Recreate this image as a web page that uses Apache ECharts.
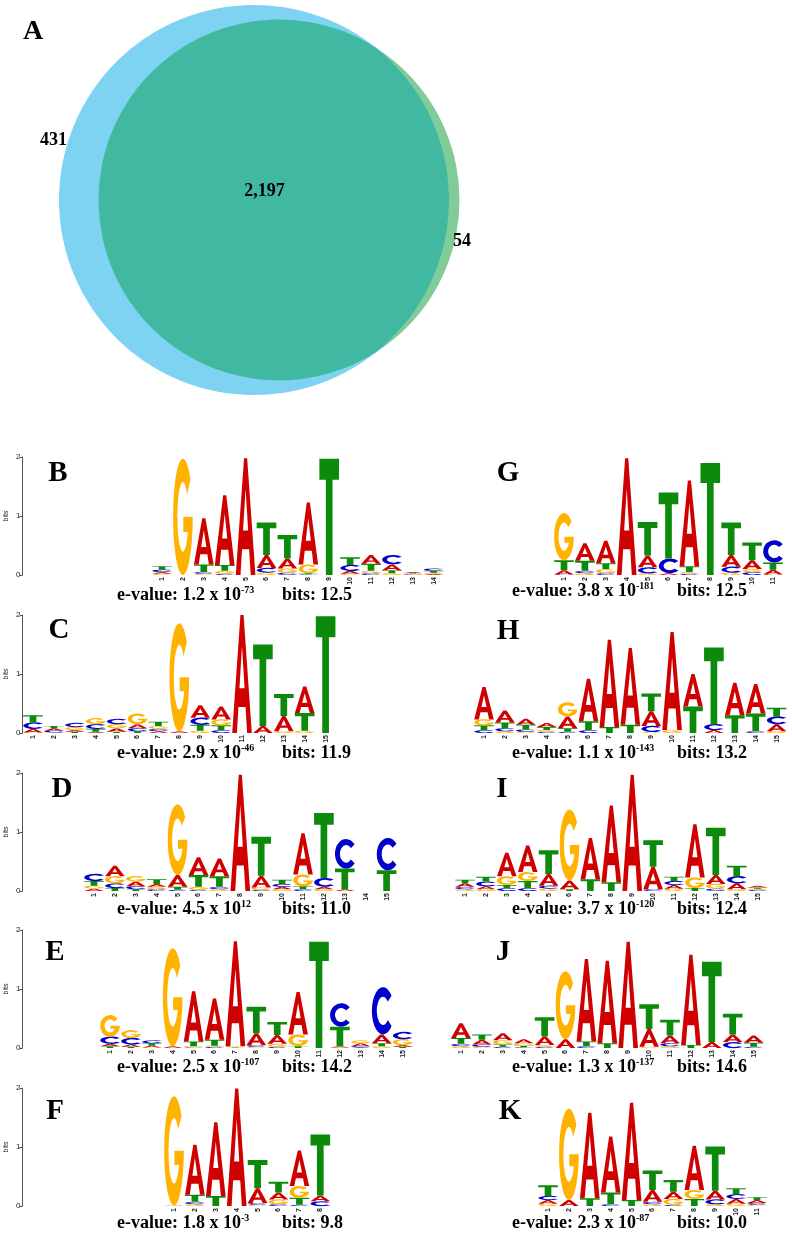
<!DOCTYPE html>
<html><head><meta charset="utf-8">
<script src="https://cdn.jsdelivr.net/npm/echarts@6/dist/echarts.min.js"></script>
<style>html,body{margin:0;padding:0;background:#fff}#c{width:792px;height:1235px}</style>
</head><body><div id="c"></div>
<script>
// ---------- Venn counts ----------
const vennOnlyFirst = 431;
const vennBoth = 2197;
const vennOnlySecond = 54;

// ---------- Sequence logos: per position [A, C, G, T] in bits ----------
const logoB = [
  [0.03,0.04,0.02,0.06],[0,0,1.97,0],[0.78,0.03,0.02,0.13],[1.18,0.02,0.05,0.1],
  [1.98,0,0,0],[0.22,0.08,0.04,0.55],[0.17,0.04,0.07,0.4],[1.05,0.01,0.15,0.02],
  [0,0,0,1.97],[0.05,0.1,0.02,0.13],[0.15,0.03,0.04,0.12],[0.1,0.16,0.03,0.05],
  [0.02,0.01,0.01,0.01],[0.02,0.04,0.02,0.03]
];
const logoC = [
  [0.06,0.11,0.01,0.12],[0.04,0.03,0.01,0.04],[0.03,0.07,0.05,0.02],[0.02,0.08,0.1,0.05],
  [0.06,0.09,0.07,0.02],[0.07,0.05,0.18,0.03],[0.03,0.04,0.05,0.07],[0.03,0,1.83,0],
  [0.21,0.12,0.04,0.1],[0.22,0.05,0.1,0.08],[2.0,0,0,0],[0.12,0,0,1.38],
  [0.26,0,0.03,0.37],[0.45,0,0.04,0.3],[0,0,0,1.98]
];
const logoD = [
  [0.04,0.12,0.05,0.08],[0.18,0.08,0.12,0.05],[0.08,0.05,0.09,0.03],[0.05,0.03,0.04,0.08],
  [0.2,0.02,1.2,0.05],[0.3,0.02,0.05,0.2],[0.3,0.04,0.03,0.18],[1.97,0,0,0],
  [0.2,0.02,0.04,0.66],[0.04,0.05,0.03,0.07],[0.7,0.03,0.2,0.05],[0.04,0.15,0.03,1.1],
  [0.03,0.5,0,0.35],[0,0,0,0],[0,0.55,0,0.35]
];
const logoE = [
  [0.04,0.12,0.37,0.03],[0.04,0.11,0.13,0.02],[0.03,0.05,0.01,0.04],[0.03,0,1.66,0],
  [0.85,0.01,0.02,0.08],[0.7,0.02,0.02,0.1],[1.78,0,0.02,0.01],[0.2,0.03,0.02,0.45],
  [0.15,0.02,0.05,0.22],[0.72,0,0.2,0.03],[0,0,0,1.8],[0.02,0.4,0.01,0.33],
  [0.05,0.02,0.05,0.01],[0.15,0.8,0.03,0.05],[0.03,0.12,0.1,0.02]
];
const logoF = [
  [0.01,0,1.85,0],[0.85,0.04,0.03,0.12],[1.25,0,0,0.17],[1.99,0,0,0],
  [0.25,0.03,0.02,0.48],[0.12,0.03,0.08,0.18],[0.6,0.02,0.2,0.12],[0.1,0.08,0,1.03]
];
const logoG = [
  [0.07,0.01,0.8,0.17],[0.3,0.04,0.03,0.17],[0.38,0.03,0.07,0.1],[1.98,0,0,0],
  [0.2,0.1,0.03,0.57],[0.03,0.25,0,1.12],[1.45,0.02,0.03,0.1],[0,0,0,1.9],
  [0.2,0.1,0.04,0.55],[0.15,0.05,0.05,0.3],[0.08,0.38,0.01,0.12]
];
const logoH = [
  [0.55,0.05,0.1,0.08],[0.2,0.05,0.03,0.1],[0.1,0.04,0.02,0.08],[0.07,0.02,0.03,0.05],
  [0.2,0.02,0.24,0.06],[0.72,0.05,0,0.15],[1.48,0,0,0.1],[1.3,0,0,0.14],
  [0.25,0.1,0.02,0.3],[1.66,0,0.05,0],[0.55,0,0,0.45],[0.05,0.1,0,1.3],
  [0.55,0,0,0.3],[0.5,0.03,0,0.3],[0.12,0.13,0.03,0.15]
];
const logoI = [
  [0.06,0.04,0.03,0.06],[0.05,0.08,0.03,0.08],[0.4,0.05,0.15,0.05],[0.45,0.05,0.15,0.12],
  [0.2,0.05,0.04,0.4],[0.15,0,1.2,0.03],[0.7,0,0,0.2],[1.3,0,0,0.15],
  [1.97,0,0,0],[0.38,0.03,0,0.45],[0.06,0.07,0.04,0.07],[0.9,0,0.18,0.05],
  [0.15,0.04,0.08,0.8],[0.1,0.12,0.03,0.18],[0.03,0.02,0.02,0.02]
];
const logoJ = [
  [0.25,0.04,0.03,0.1],[0.08,0.04,0.02,0.09],[0.12,0.02,0.07,0.04],[0.07,0.01,0.04,0.03],
  [0.15,0.02,0.03,0.32],[0.15,0,1.15,0],[1.4,0.03,0,0.08],[1.4,0,0,0.08],
  [1.8,0,0,0],[0.3,0,0.02,0.42],[0.13,0.05,0.03,0.27],[1.53,0,0,0.05],
  [0.1,0,0,1.36],[0.13,0.1,0,0.35],[0.12,0.02,0,0.07]
];
const logoK = [
  [0.06,0.07,0.04,0.18],[0.1,0,1.55,0],[1.45,0,0,0.13],[0.95,0.03,0,0.2],
  [1.65,0,0,0.1],[0.2,0.04,0.03,0.33],[0.12,0.02,0.1,0.2],[0.75,0,0.15,0.12],
  [0.15,0.08,0.03,0.75],[0.08,0.08,0.04,0.1],[0.05,0.03,0.02,0.05]
];

const panelNames = ['B','C','D','E','F','G','H','I','J','K'];
const panelLogos = [logoB, logoC, logoD, logoE, logoF, logoG, logoH, logoI, logoJ, logoK];
const eValueBase = ['1.2','2.9','4.5','2.5','1.8','3.8','1.1','3.7','1.3','2.3'];
const eValueExp  = ['-73','-46','12','-107','-3','-181','-143','-120','-137','-87'];
const totalBits  = ['12.5','11.9','11.0','14.2','9.8','12.5','13.2','12.4','14.6','10.0'];

// ---------- layout (pixels) ----------
const STEP = 20.9, PLOT_H = 118, AXIS_X = 22.5;
const panelPos1 = [162, 33, 94, 110, 174, 564, 484, 465, 461, 548];
const panelBase = [575, 733, 891, 1048, 1206, 575, 733, 891, 1048, 1206];
const panelLabelXY = [[58,474],[59,631],[62,790],[55,953],[55,1112],[508,474],[508,632],[502,790],[503,953],[510,1112]];
const captionY = [595, 753, 909, 1067, 1223, 591, 753, 909, 1067, 1223];
const captionX = [[117,282],[512,677]];
const VENN_CX = 254, VENN_CY = 200, VENN_R1 = 195;

const LETTERS = ['A','C','G','T'];
const COLORS = ['#D00000','#0000CC','#FFB300','#0B8A0B'];
const GLYPH = [
  'M0,100 L42,0 L58,0 L100,100 L76,100 L68,78 L32,78 L24,100 Z M37,62 L63,62 L50,26 Z',
  'M88.3,17.9 A50,50 0 1 0 88.3,82.1 L71.4,69.3 A28,30 0 1 1 71.4,30.7 Z',
  'M88.3,17.9 A50,50 0 1 0 100,50 L52,50 L52,63 L75.2,63 A28,30 0 1 1 71.4,30.7 Z',
  'M0,0 L100,0 L100,18 L67,18 L67,100 L33,100 L33,18 L0,18 Z'
];

function logoRender(params, api) {
  const i = api.value(0);
  const vals = [api.value(1), api.value(2), api.value(3), api.value(4)];
  const order = [0,1,2,3].sort((a,b) => vals[a] - vals[b]);
  const w = api.size([1, 0])[0] * 0.94;
  const children = [];
  let acc = 0;
  for (const k of order) {
    const h = vals[k];
    if (!(h > 0.003)) continue;
    const pb = api.coord([i, acc]);
    const pt = api.coord([i, acc + h]);
    children.push({
      type: 'path',
      shape: { pathData: GLYPH[k], x: pb[0] - w / 2, y: pt[1], width: w, height: Math.max(pb[1] - pt[1], 0.3), layout: 'cover' },
      style: { fill: COLORS[k] }
    });
    acc += h;
  }
  return { type: 'group', children };
}

function lensArea(d, r1, r2) {
  if (d <= Math.abs(r1 - r2)) return Math.PI * Math.min(r1, r2) ** 2;
  if (d >= r1 + r2) return 0;
  const a1 = r1 * r1 * Math.acos((d * d + r1 * r1 - r2 * r2) / (2 * d * r1));
  const a2 = r2 * r2 * Math.acos((d * d + r2 * r2 - r1 * r1) / (2 * d * r2));
  const t = 0.5 * Math.sqrt((-d + r1 + r2) * (d + r1 - r2) * (d - r1 + r2) * (d + r1 + r2));
  return a1 + a2 - t;
}

function vennRender(params, api) {
  const a = api.value(0), both = api.value(1), b = api.value(2);
  const nA = a + both, nB = b + both;
  const r1 = VENN_R1, k = r1 / Math.sqrt(nA), r2 = k * Math.sqrt(nB);
  const target = Math.PI * k * k * both;
  let lo = Math.abs(r1 - r2) + 1e-6, hi = r1 + r2;
  for (let it = 0; it < 80; it++) {
    const mid = (lo + hi) / 2;
    if (lensArea(mid, r1, r2) > target) lo = mid; else hi = mid;
  }
  const d = (lo + hi) / 2;
  const c1x = VENN_CX, cy = VENN_CY, c2x = c1x + d;
  const xi = (d * d + r1 * r1 - r2 * r2) / (2 * d);
  const h = Math.sqrt(r1 * r1 - xi * xi);
  const p1 = [c1x + xi, cy - h], p2 = [c1x + xi, cy + h];
  const lens = `M${p1[0]},${p1[1]} A${r2},${r2} 0 1 0 ${p2[0]},${p2[1]} A${r1},${r1} 0 0 0 ${p1[0]},${p1[1]} Z`;
  const font = 'bold 18px "Liberation Serif"';
  const th1 = 196.5 * Math.PI / 180, th2 = 12.6 * Math.PI / 180;
  const txt = (x, y, s) => ({ type: 'text', x, y, style: { text: s, font, fill: '#000', align: 'center', verticalAlign: 'middle' } });
  return {
    type: 'group',
    children: [
      { type: 'circle', shape: { cx: c2x, cy, r: r2 }, style: { fill: '#80CB98' } },
      { type: 'circle', shape: { cx: c1x, cy, r: r1 }, style: { fill: '#7ED2F2' } },
      { type: 'path', shape: { pathData: lens }, style: { fill: '#41B9A0' } },
      txt(c1x + (r1 + 14) * Math.cos(th1), cy + (r1 + 14) * Math.sin(th1), a.toLocaleString('en-US')),
      txt((c1x + c2x) / 2 - 2, cy - 9, both.toLocaleString('en-US')),
      txt(c2x + (r2 + 7) * Math.cos(th2), cy + (r2 + 7) * Math.sin(th2), b.toLocaleString('en-US'))
    ]
  };
}

const grids = [], xAxes = [], yAxes = [], series = [], graphics = [];
panelLogos.forEach((logo, p) => {
  const n = logo.length;
  const left = panelPos1[p] - STEP / 2;
  const hasAxis = p < 5;
  grids.push({ left, top: panelBase[p] - PLOT_H, width: n * STEP, height: PLOT_H });
  xAxes.push({
    type: 'category', gridIndex: p, data: logo.map((_, i) => String(i + 1)),
    axisLine: { show: false }, axisTick: { show: false },
    axisLabel: { rotate: 90, fontSize: 7, margin: 2, color: '#222', interval: 0, fontFamily: '"Liberation Sans"', fontWeight: 'bold' },
    splitLine: { show: false }
  });
  yAxes.push({
    type: 'value', gridIndex: p, min: 0, max: 2, interval: 1, show: hasAxis,
    offset: hasAxis ? left - AXIS_X : 0,
    axisLine: { show: true, lineStyle: { color: '#555', width: 1 } },
    axisTick: { show: true, length: 3, lineStyle: { color: '#555' } },
    axisLabel: { fontSize: 8, margin: 2, color: '#222', fontFamily: '"Liberation Sans"' },
    splitLine: { show: false },
    name: 'bits', nameLocation: 'middle', nameGap: 13, nameRotate: 90,
    nameTextStyle: { fontSize: 7, color: '#222', fontFamily: '"Liberation Sans"' }
  });
  series.push({
    type: 'custom', xAxisIndex: p, yAxisIndex: p, silent: true, clip: false,
    data: logo.map((v, i) => [i, v[0], v[1], v[2], v[3]]),
    encode: { x: 0, y: 1 }, renderItem: logoRender
  });
  graphics.push({
    type: 'text', x: panelLabelXY[p][0], y: panelLabelXY[p][1],
    style: { text: panelNames[p], font: 'bold 29px "Liberation Serif"', fill: '#000', align: 'center', verticalAlign: 'middle' }
  });
  const col = p < 5 ? 0 : 1;
  graphics.push({
    type: 'text', x: captionX[col][0], y: captionY[p],
    style: {
      text: `{m|e-value: ${eValueBase[p]} x 10}{s|${eValueExp[p]}}`,
      align: 'left', verticalAlign: 'middle',
      rich: {
        m: { fontSize: 18, fontFamily: '"Liberation Serif"', fontWeight: 'bold', fill: '#000', lineHeight: 20 },
        s: { fontSize: 10, fontFamily: '"Liberation Serif"', fontWeight: 'bold', fill: '#000', lineHeight: 14, verticalAlign: 'top' }
      }
    }
  });
  graphics.push({
    type: 'text', x: captionX[col][1], y: captionY[p],
    style: { text: `bits: ${totalBits[p]}`, font: 'bold 18px "Liberation Serif"', fill: '#000', align: 'left', verticalAlign: 'middle' }
  });
});

graphics.push({
  type: 'text', x: 33, y: 32,
  style: { text: 'A', font: 'bold 28px "Liberation Serif"', fill: '#000', align: 'center', verticalAlign: 'middle' }
});

series.unshift({
  type: 'custom', coordinateSystem: 'none', silent: true,
  data: [[vennOnlyFirst, vennBoth, vennOnlySecond]],
  renderItem: vennRender
});

const chart = echarts.init(document.getElementById('c'), null, { renderer: 'canvas' });
chart.setOption({
  animation: false,
  backgroundColor: '#fff',
  grid: grids, xAxis: xAxes, yAxis: yAxes, series,
  graphic: { elements: graphics }
});
</script>
</body></html>
